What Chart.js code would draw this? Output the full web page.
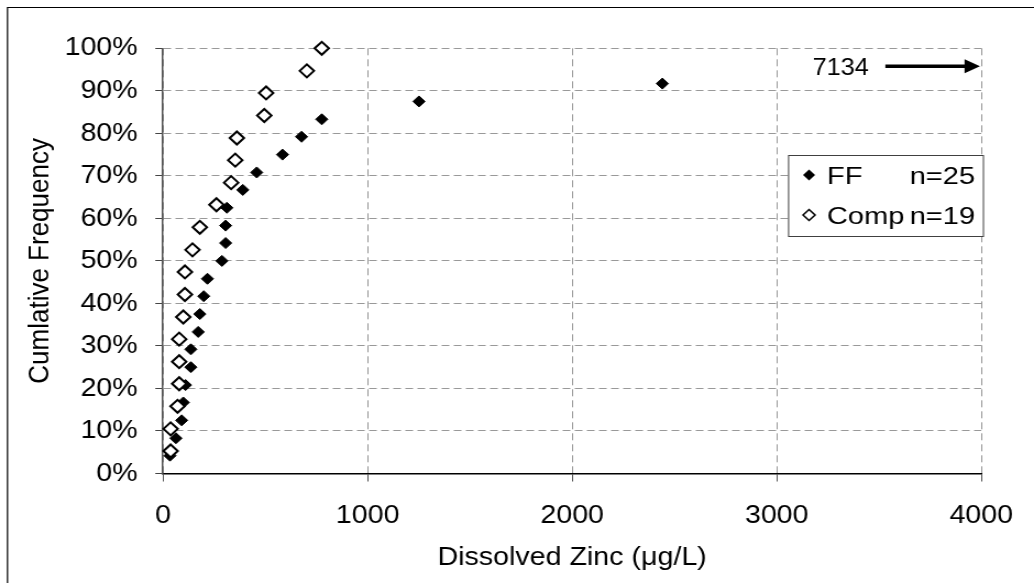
<!DOCTYPE html>
<html><head><meta charset="utf-8">
<script src="https://cdn.jsdelivr.net/npm/chart.js@4"></script>
<style>
html,body{margin:0;padding:0;background:#fff;overflow:hidden;}
#wrap{width:940px;height:583px;transform:scaleX(1.1);transform-origin:0 0;}
canvas{display:block;}
</style></head><body>
<div id="wrap"><canvas id="c" width="940" height="583"></canvas></div>
<script>
// ---- data ----
const seriesNames = ['FF', 'Comp'];
const seriesCounts = [25, 19];
const ffZinc = [34, 63, 91, 99, 110, 136, 136, 172, 180, 199, 217, 288, 306, 306, 312, 390, 458, 584, 677, 776, 1251, 2441, 7134];
const ffFreq = [4.2, 8.3, 12.5, 16.7, 20.8, 25.0, 29.2, 33.3, 37.5, 41.7, 45.8, 50.0, 54.2, 58.3, 62.5, 66.7, 70.8, 75.0, 79.2, 83.3, 87.5, 91.7, 95.8];
const compZinc = [37, 37, 71, 79, 79, 79, 99, 107, 107, 144, 180, 261, 333, 353, 361, 495, 504, 703, 776];
const compFreq = [5.3, 10.5, 15.8, 21.1, 26.3, 31.6, 36.8, 42.1, 47.4, 52.6, 57.9, 63.2, 68.4, 73.7, 78.9, 84.2, 89.5, 94.7, 100];
const xTickLabels = ['0', '1000', '2000', '3000', '4000'];
const yTickLabels = ['0%', '10%', '20%', '30%', '40%', '50%', '60%', '70%', '80%', '90%', '100%'];
const xTitle = 'Dissolved Zinc (\u03bcg/L)';
const yTitle = 'Cumlative Frequency';

const FONT = '"Liberation Sans", Arial, sans-serif';
Chart.defaults.font.family = FONT;
Chart.defaults.color = '#000';

function toPts(xs, ys) { return xs.map((x, i) => ({ x: x, y: ys[i] })); }

function diamond(ctx, x, y, r) {
  ctx.beginPath();
  ctx.moveTo(x, y - r);
  ctx.lineTo(x + r, y);
  ctx.lineTo(x, y + r);
  ctx.lineTo(x - r, y);
  ctx.closePath();
}

const decor = {
  id: 'decor',
  beforeDraw(chart) {
    const ctx = chart.ctx;
    ctx.save();
    ctx.fillStyle = '#fff';
    ctx.fillRect(0, 0, chart.width, chart.height);
    ctx.strokeStyle = '#000';
    ctx.lineWidth = 1.2;
    ctx.beginPath();
    ctx.moveTo(6.8, chart.height);
    ctx.lineTo(6.8, 7.5);
    ctx.lineTo(chart.width, 7.5);
    ctx.stroke();
    ctx.restore();
  },
  afterDraw(chart) {
    const ctx = chart.ctx;
    const xs = chart.scales.x, ys = chart.scales.y, area = chart.chartArea;
    ctx.save();
    // off-scale annotation arrow
    const ff = chart.data.datasets[1].data;
    ff.filter(p => p.x > xs.max).forEach(p => {
      const y = ys.getPixelForValue(p.y);
      const tip = area.right - 1.2;
      ctx.strokeStyle = '#000';
      ctx.fillStyle = '#000';
      ctx.lineWidth = 3.5;
      ctx.beginPath();
      ctx.moveTo(tip - 86, y);
      ctx.lineTo(tip - 12, y);
      ctx.stroke();
      ctx.beginPath();
      ctx.moveTo(tip, y);
      ctx.lineTo(tip - 14, y - 7);
      ctx.lineTo(tip - 14, y + 7);
      ctx.closePath();
      ctx.fill();
      ctx.font = '23px ' + FONT;
      ctx.textAlign = 'right';
      ctx.textBaseline = 'alphabetic';
      ctx.fillText(String(p.x), tip - 101, y + 9);
    });
    // legend box
    const bx = 716.4, by = 155, bw = 178.1, bh = 82;
    ctx.fillStyle = '#fff';
    ctx.fillRect(bx, by, bw, bh);
    ctx.strokeStyle = '#404040';
    ctx.lineWidth = 1;
    ctx.strokeRect(bx + 0.5, by + 0.5, bw - 1, bh - 1);
    const rows = [
      { name: seriesNames[0], n: seriesCounts[0], y: 175, filled: true },
      { name: seriesNames[1], n: seriesCounts[1], y: 215, filled: false }
    ];
    rows.forEach(r => {
      ctx.save();
      diamond(ctx, 735.5, r.y, 5.5);
      if (r.filled) { ctx.fillStyle = '#000'; ctx.fill(); }
      else { ctx.fillStyle = '#fff'; ctx.fill(); ctx.lineWidth = 1.5; ctx.strokeStyle = '#000'; ctx.stroke(); }
      ctx.restore();
      ctx.save();
      ctx.fillStyle = '#000';
      ctx.font = '24px ' + FONT;
      ctx.textBaseline = 'alphabetic';
      ctx.translate(751.8, r.y + 8.5);
      ctx.scale(1.1, 1);
      ctx.textAlign = 'left';
      ctx.fillText(r.name, 0, 0);
      ctx.textAlign = 'right';
      ctx.fillText('n=' + r.n, (886.4 - 751.8) / 1.1, 0);
      ctx.restore();
    });
    ctx.restore();
  }
};

new Chart(document.getElementById('c'), {
  type: 'scatter',
  data: {
    datasets: [
      {
        label: seriesNames[1],
        data: toPts(compZinc, compFreq),
        pointStyle: 'rectRot',
        pointRadius: 6.5,
        pointHoverRadius: 6.5,
        backgroundColor: '#fff',
        borderColor: '#000',
        borderWidth: 2,
        clip: 12,
        order: 0
      },
      {
        label: seriesNames[0],
        data: toPts(ffZinc, ffFreq),
        pointStyle: 'rectRot',
        pointRadius: 5.5,
        pointHoverRadius: 5.5,
        backgroundColor: '#000',
        borderColor: '#000',
        borderWidth: 1,
        clip: 12,
        order: 1
      }
    ]
  },
  options: {
    responsive: false,
    devicePixelRatio: 1,
    animation: false,
    events: [],
    layout: { padding: { left: 18.2, top: 48.3, right: 42.7, bottom: 0 } },
    plugins: { legend: { display: false }, tooltip: { enabled: false } },
    scales: {
      x: {
        type: 'linear',
        position: 'bottom',
        min: 0, max: 4000,
        afterFit: s => { s.height = 109.5; },
        ticks: {
          stepSize: 1000, autoSkip: false, maxRotation: 0,
          font: { size: 26 }, color: '#000', padding: 19,
          callback: (v, i) => xTickLabels[i]
        },
        grid: { color: '#999', lineWidth: 1, tickColor: '#555', tickLength: 8, tickBorderDash: [] },
        border: { display: true, color: '#000', width: 1.5, dash: [7, 4] },
        title: { display: true, text: xTitle, font: { size: 26 }, color: '#000', padding: { top: 0, bottom: 10 } }
      },
      y: {
        type: 'linear',
        position: 'left',
        min: 0, max: 100,
        afterFit: s => { s.width = 130; },
        ticks: {
          stepSize: 10, autoSkip: false,
          font: { size: 26 }, color: '#000', padding: 16,
          callback: (v, i) => yTickLabels[i]
        },
        grid: { color: '#999', lineWidth: 1, tickColor: '#444', tickLength: 7, tickBorderDash: [] },
        border: { display: true, color: '#555', width: 1.5, dash: [7, 4] },
        title: { display: true, text: yTitle, font: { size: 26 }, color: '#000', padding: { top: 3, bottom: 0 } }
      }
    }
  },
  plugins: [decor]
});
</script>
</body></html>
